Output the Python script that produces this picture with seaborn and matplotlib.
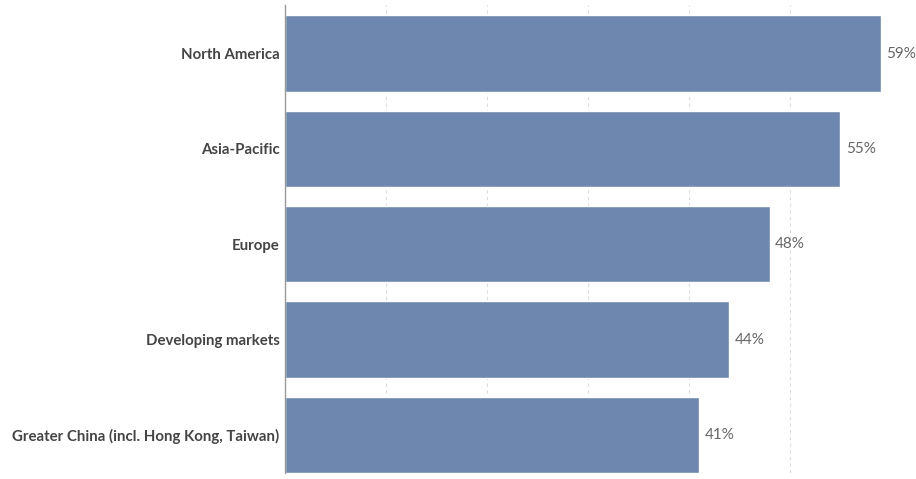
import pandas as pd
import seaborn as sns
import matplotlib.pyplot as plt

regions = ["North America", "Asia-Pacific", "Europe", "Developing markets",
           "Greater China (incl. Hong Kong, Taiwan)"]
shares = [59, 55, 48, 44, 41]
value_labels = ["59%", "55%", "48%", "44%", "41%"]

df = pd.DataFrame({"region": regions, "share": shares})

sns.set_style("white")
plt.rcParams['font.family'] = ['Lato', 'DejaVu Sans']

fig = plt.figure(figsize=(9.16, 4.79), dpi=100)
ax = fig.add_axes([285 / 916, 1 - 473 / 479, 631 / 916, 468 / 479])

sns.barplot(data=df, y="region", x="share", color="#6e87af", saturation=1,
            width=0.8, orient="h", ax=ax, zorder=2)

ax.set_xlim(0, 62.5)
ax.set_ylim(4.4, -0.51)
ax.set_xticks([0, 10, 20, 30, 40, 50])
ax.set_xticklabels([])
ax.grid(axis="x", color="#dddddd", linestyle=(0, (3, 3)), linewidth=0.8, zorder=0)
ax.set_axisbelow(True)
ax.tick_params(axis="x", length=7, width=0.8, color="#cccccc", direction="out")
ax.tick_params(axis="y", length=0, pad=4)
for lab in ax.get_yticklabels():
    lab.set_fontweight("bold")
    lab.set_color("#444444")
    lab.set_fontsize(10.8)

for s in ["top", "right", "bottom"]:
    ax.spines[s].set_visible(False)
ax.spines["left"].set_color("#999999")
ax.spines["left"].set_linewidth(1.0)

for i, (v, t) in enumerate(zip(shares, value_labels)):
    ax.text(v + 0.55, i, t, va="center", ha="left", fontsize=11, color="#666666")

ax.set_xlabel("")
ax.set_ylabel("")
fig.savefig("out.png", dpi=100)
